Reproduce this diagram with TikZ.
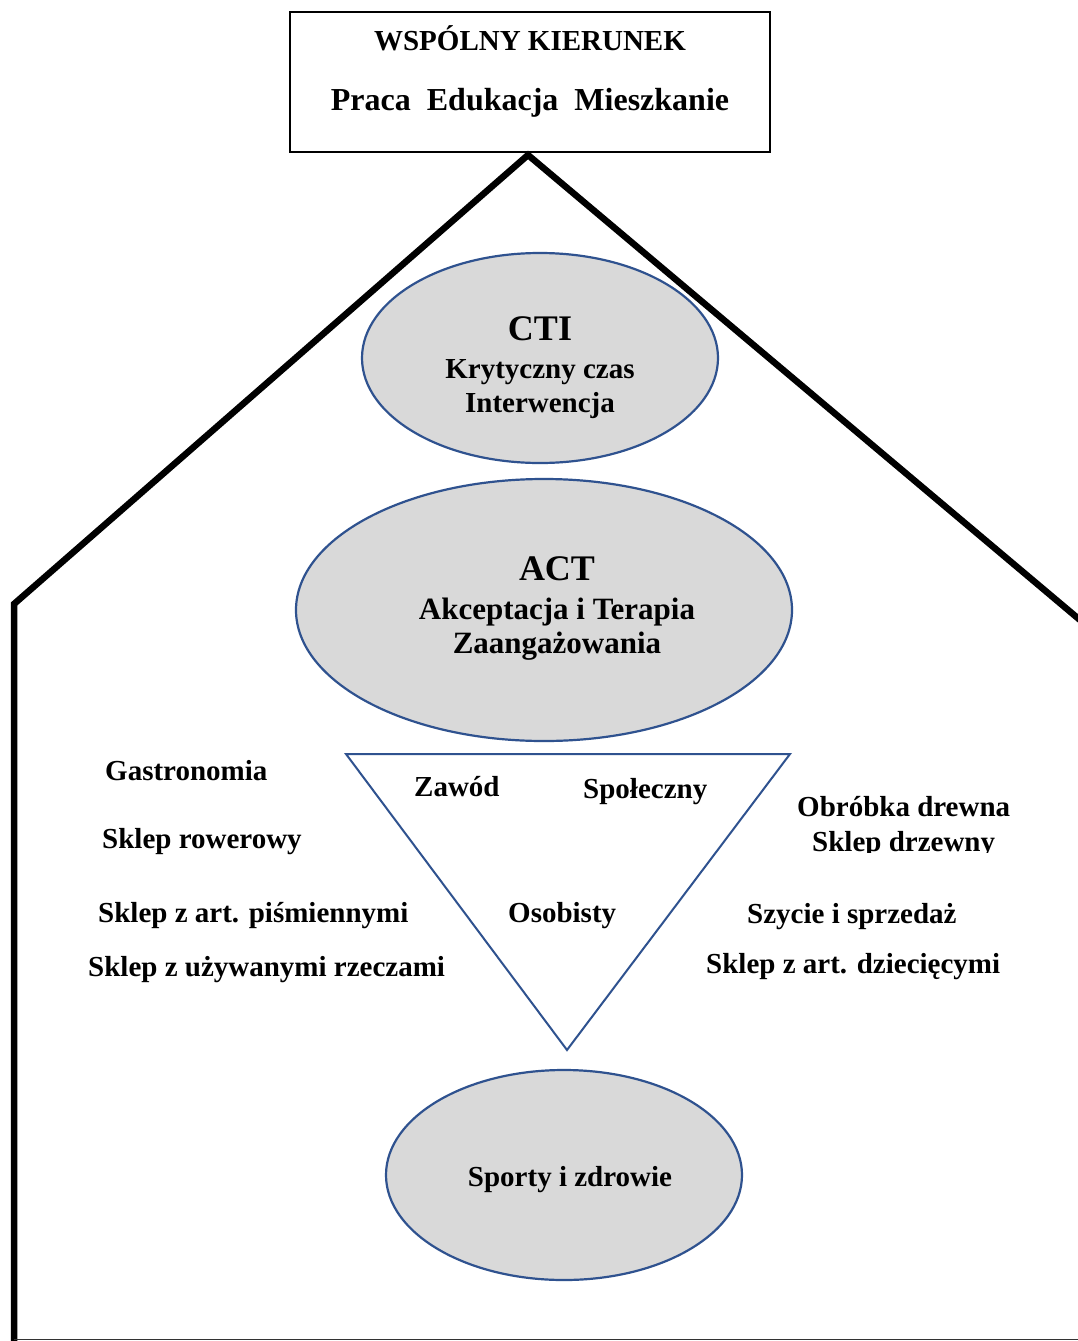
\documentclass[tikz,border=0pt]{standalone}
\usepackage{fontspec}
\setmainfont{Liberation Serif}
\usetikzlibrary{shapes.geometric}
\definecolor{ellfill}{HTML}{D9D9D9}
\definecolor{ellline}{HTML}{2F528F}
\begin{document}
\begin{tikzpicture}[x=1pt,y=-1pt,
  lbl/.style={font=\fontsize{29}{34}\selectfont\bfseries, inner sep=0pt, anchor=base west},
  clbl/.style={font=\fontsize{29}{34}\selectfont\bfseries, inner sep=0pt, anchor=base},
  ttl/.style={font=\fontsize{36}{40}\selectfont\bfseries, inner sep=0pt, anchor=base},
  oval/.style={draw=ellline, fill=ellfill, line width=2.2pt, ellipse, inner sep=0pt},
  roof/.style={line width=6.5pt, line cap=butt, line join=miter}]
\useasboundingbox (0,0) rectangle (1078,1341);
\fill[white] (0,0) rectangle (1078,1341);
% top box
\node[draw=black, line width=1.5pt, minimum width=480pt, minimum height=140pt, inner sep=0pt] (box) at (530,82) {};
\node[clbl, font=\fontsize{29}{34}\selectfont\bfseries] (wk) at (530,50) {WSPÓLNY KIERUNEK};
\node[clbl, font=\fontsize{32}{36}\selectfont\bfseries] (ped) at (530,110) {Praca\ \ Edukacja\ \ Mieszkanie};
% house outline
\coordinate (apex) at (528,155);
\coordinate (leftc) at (14,604);
\coordinate (rightc) at (1080,620);
\coordinate (leftb) at (14,1341);
\draw[roof] (rightc) -- (apex) -- (leftc) -- (leftb);
\draw[line width=1.2pt, draw=black!80] (14,1339.5) -- (1078,1339.5);
% ellipses
\node[oval, minimum width=356pt, minimum height=210pt] (cti) at (540,358) {};
\node[ttl] at (540,340) {CTI};
\node[clbl] at (540,378) {Krytyczny czas};
\node[clbl] at (540,412) {Interwencja};
\node[oval, minimum width=496pt, minimum height=262pt] (act) at (544,610) {};
\node[ttl] at (557,580) {ACT};
\node[clbl, font=\fontsize{31}{34}\selectfont\bfseries] at (557,619) {Akceptacja i Terapia};
\node[clbl, font=\fontsize{31}{34}\selectfont\bfseries] at (557,653) {Zaangażowania};
% triangle
\coordinate (t1) at (346,754);
\coordinate (t2) at (790,754);
\coordinate (t3) at (567,1050);
\draw[draw=ellline, line width=2pt, fill=white, line join=miter] (t1) -- (t2) -- (t3) -- cycle;
\node[lbl] (zaw) at (414,796) {Zawód};
\node[lbl] (spo) at (583,798) {Społeczny};
\node[lbl] (oso) at (508,922) {Osobisty};
% sports
\node[oval, minimum width=356pt, minimum height=210pt] (spt) at (564,1175) {};
\node[clbl] at (570,1186) {Sporty i zdrowie};
% left labels
\node[lbl] (g1) at (105,780) {Gastronomia};
\node[lbl] (g2) at (102,848) {Sklep rowerowy};
\node[lbl] (g3) at (98,922) {Sklep z art. piśmiennymi};
\node[lbl] (g4) at (88,976) {Sklep z używanymi rzeczami};
% right labels
\node[lbl] (r1) at (797,816) {Obróbka drewna};
\begin{scope}
\clip (780,822) rectangle (1078,852);
\node[lbl] (r2) at (812,851) {Sklep drzewny};
\end{scope}
\node[lbl] (r3) at (747,923) {Szycie i sprzedaż};
\node[lbl] (r4) at (706,973) {Sklep z art. dziecięcymi};
\end{tikzpicture}
\end{document}
